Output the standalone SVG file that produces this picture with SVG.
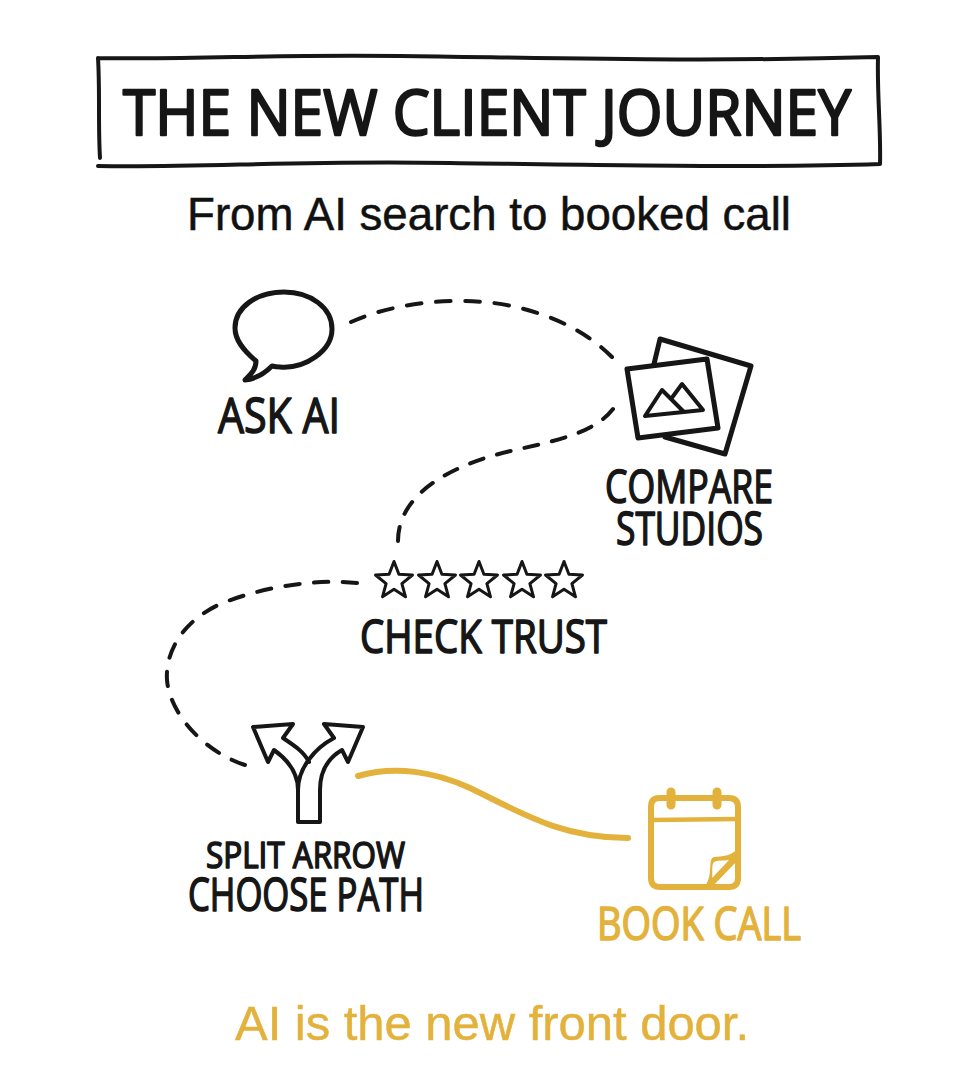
<svg xmlns="http://www.w3.org/2000/svg" width="976" height="1088" viewBox="0 0 976 1088">
<style>
.ink{fill:none;stroke:#161616;stroke-width:5;stroke-linecap:round;stroke-linejoin:round}
.gold{fill:none;stroke:#E3B23C;stroke-width:6;stroke-linecap:round;stroke-linejoin:round}
.dash{fill:none;stroke:#161616;stroke-width:4;stroke-linecap:round;stroke-dasharray:15 15}
.hand{font-family:"Open Sans","Liberation Sans",sans-serif;font-weight:400;fill:#161616;stroke:#161616;stroke-width:1.6;stroke-linejoin:round;stroke-linecap:round}
.sans{font-family:"Liberation Sans",Arial,sans-serif;stroke-width:.5}
</style>
<defs>
<polygon id="star" points="0,-19.5 4.9,-6.7 18.5,-6 7.9,2.6 11.5,15.8 0,8.3 -11.5,15.8 -7.9,2.6 -18.5,-6 -4.9,-6.7" fill="#fff" stroke="#161616" stroke-width="3" stroke-linejoin="round"/>
</defs>
<rect width="976" height="1088" fill="#fff"/>
<g id="title">
<path class="ink" style="stroke-width:4" d="M98,58 C200,60 270,54 400,56 C560,58 700,62 878,57 M98,58 C100,90 98,125 100,158 M878,57 C877,95 881,130 880,164 M98,166 C200,168 300,160 450,163 C600,165 760,168 880,164"/>
<text class="hand" style="stroke-width:2.4" x="123" y="135" font-size="62" textLength="728" lengthAdjust="spacingAndGlyphs">THE NEW CLIENT JOURNEY</text>
</g>
<text id="subtitle" class="sans" x="187" y="230" font-size="46" fill="#111" stroke="#111" textLength="604" lengthAdjust="spacingAndGlyphs">From AI search to booked call</text>
<g id="connectors">
<path class="dash" pathLength="285" d="M351,322 C400,300 470,295 520,308 C560,318 590,335 612,357"/>
<path class="dash" pathLength="285" d="M613,409 C595,432 560,440 515,450 C460,462 398,490 398,541"/>
<path class="dash" pathLength="375" d="M357,583 C320,579 270,585 225,602 C185,618 165,650 167,680 C170,715 205,752 245,765"/>
<path class="gold" d="M358,776 C395,765 435,772 470,788 C520,812 560,838 628,838"/>
</g>
<g id="ask-ai">
<path class="ink" d="M256,361 C243,350 235,340 235,328 C235,307 257,292 284,292 C311,292 332,308 332,329 C332,351 305,369 280,367 Q276,367 272,366 C264,374 255,379 245,380 C252,373 256,369 256,361Z"/>
<text class="hand" x="218" y="433" font-size="50" textLength="122" lengthAdjust="spacingAndGlyphs">ASK AI</text>
</g>
<g id="compare-studios">
<path class="ink" d="M654,364 L660,339 L751,366 L725,454 L665,437"/>
<path class="ink" d="M627,369 L707,359 L718,428 L638,438Z"/>
<path class="ink" style="stroke-width:4" d="M645,416 L662,390 L684,412 M645,416 L703,410 L682,384 L671,399"/>
<text class="hand" x="605" y="503" font-size="46" textLength="168" lengthAdjust="spacingAndGlyphs">COMPARE</text>
<text class="hand" x="616" y="545" font-size="46" textLength="147" lengthAdjust="spacingAndGlyphs">STUDIOS</text>
</g>
<g id="check-trust">
<use href="#star" x="394" y="581"/>
<use href="#star" x="437" y="581"/>
<use href="#star" x="479" y="581"/>
<use href="#star" x="522" y="581"/>
<use href="#star" x="564" y="581"/>
<text class="hand" x="360" y="653" font-size="46" textLength="247" lengthAdjust="spacingAndGlyphs">CHECK TRUST</text>
</g>
<g id="choose-path">
<path class="ink" style="stroke-width:4" d="M298,822 L298,790 C298,768 315,748 334,738 L324,724 L363,727 L348,762 L342,750 C328,758 320,770 320,790 L320,822 Z"/>
<path class="ink" style="stroke-width:4" d="M298,790 C298,772 288,760 274,750 L268,762 L253,727 L293,724 L283,738 C295,746 304,752 309,762"/>
<text class="hand" x="206" y="868" font-size="36" textLength="199" lengthAdjust="spacingAndGlyphs">SPLIT ARROW</text>
<text class="hand" x="188" y="911" font-size="46" textLength="236" lengthAdjust="spacingAndGlyphs">CHOOSE PATH</text>
</g>
<g id="book-call">
<path class="gold" d="M659,798 L729,798 Q738,798 738,807 L738,878 Q738,887 729,887 L660,887 Q651,887 651,878 L651,807 Q651,798 659,798Z"/>
<path class="gold" style="stroke-width:4.5" d="M651,820 L738,819"/>
<path class="gold" style="stroke-width:9" d="M671,792 L671,805 M717,792 L717,805"/>
<path d="M705,886 C714,874 707,859 714,857 C722,856 731,857 738,848 L738,860 L712,887Z" fill="#E3B23C"/>
<path d="M714,862 C717,860 723,861 729,860 L712,878 C713,872 711,866 714,862Z" fill="#fff"/>
<text class="hand" style="fill:#E3B23C;stroke:#E3B23C" x="597" y="940" font-size="46" textLength="204" lengthAdjust="spacingAndGlyphs">BOOK CALL</text>
</g>
<text id="tagline" class="sans" x="235" y="1040" font-size="48" fill="#E3B23C" stroke="#E3B23C" textLength="514" lengthAdjust="spacingAndGlyphs">AI is the new front door.</text>
</svg>
